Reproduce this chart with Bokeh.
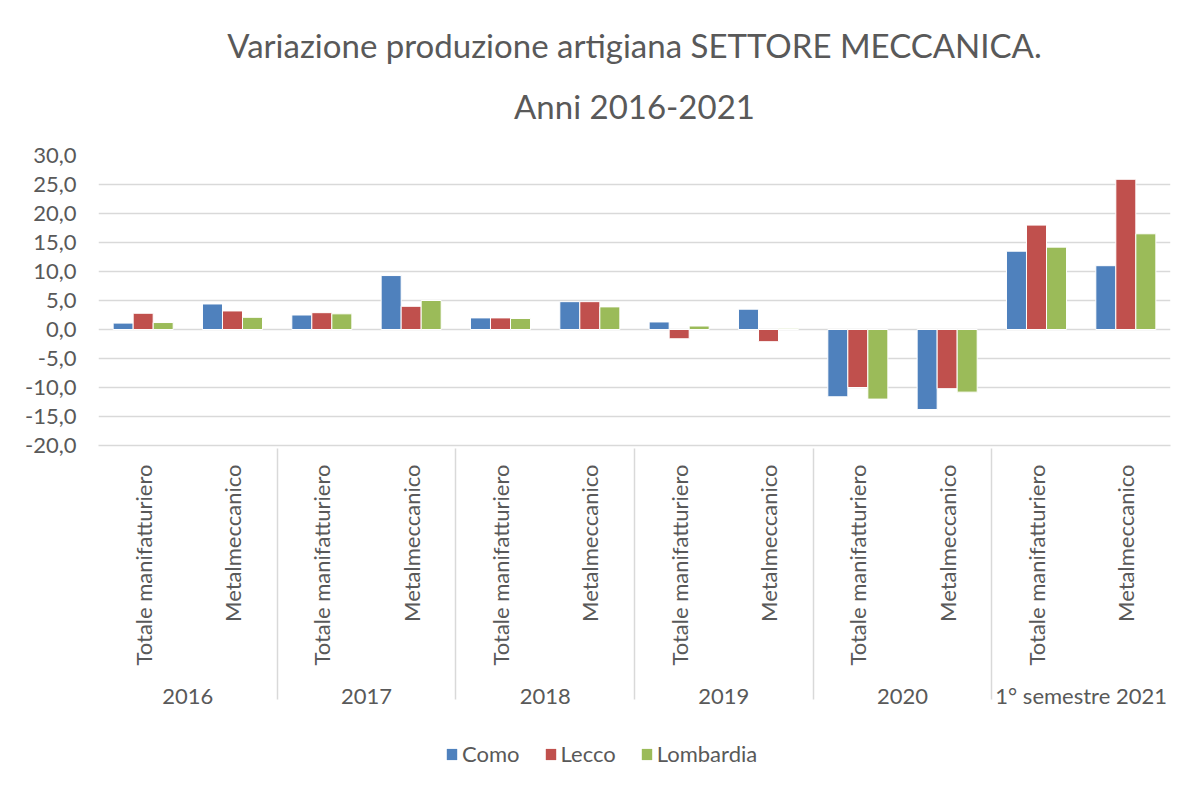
import math
from bokeh.plotting import figure
from bokeh.layouts import column
from bokeh.models import FactorRange, ColumnDataSource, Title, Legend, LegendItem, FixedTicker
from bokeh.transform import dodge
from bokeh.embed import file_html
from bokeh.resources import INLINE

years = ["2016", "2017", "2018", "2019", "2020", "1° semestre 2021"]
subs = ["Totale manifatturiero", "Metalmeccanico"]
como = [1.1, 4.4, 2.5, 9.3, 2.0, 4.8, 1.3, 3.5, -11.6, -13.8, 13.5, 11.0]
lecco = [2.8, 3.2, 2.9, 4.0, 2.0, 4.8, -1.6, -2.1, -10.0, -10.2, 18.0, 25.9]
lombardia = [1.2, 2.1, 2.7, 5.0, 1.9, 3.9, 0.6, 0.2, -12.0, -10.8, 14.2, 16.5]
series = ["Como", "Lecco", "Lombardia"]
colors = ["#4F81BD", "#C0504D", "#9BBB59"]
y_ticks = [-20, -15, -10, -5, 0, 5, 10, 15, 20, 25, 30]

factors = [(y, s) for y in years for s in subs]
src = ColumnDataSource(dict(x=factors, Como=como, Lecco=lecco, Lombardia=lombardia))

FONT = "Lato"
GREY = "#595959"
LINE = "#d9d9d9"
FS = "22px"

x_range = FactorRange(*factors, factor_padding=0, group_padding=0, range_padding=0)
p = figure(x_range=x_range, y_range=(-20, 30), width=1171, height=733,
           output_backend="svg", toolbar_location=None, title=None,
           min_border_left=98, min_border_right=1, min_border_top=155, min_border_bottom=288)

p.add_layout(Title(text="Anni 2016-2021", align="center", text_font=FONT, text_font_size="33px",
                   text_font_style="normal", text_color=GREY, standoff=59), "above")
p.add_layout(Title(text="Variazione produzione artigiana SETTORE MECCANICA.", align="center",
                   text_font=FONT, text_font_size="33px", text_font_style="normal",
                   text_color=GREY, standoff=-20), "above")

w = 0.224
for i, (s, c) in enumerate(zip(series, colors)):
    p.vbar(x=dodge("x", (i - 1) * w, range=p.x_range), top=s, bottom=0, width=w,
           source=src, fill_color=c, line_color="white", line_width=1)

p.yaxis.ticker = FixedTicker(ticks=y_ticks)
p.yaxis.major_label_overrides = {t: f"{t:.1f}".replace(".", ",") for t in y_ticks}
p.yaxis.axis_line_color = None
p.yaxis.major_tick_line_color = None
p.yaxis.minor_tick_line_color = None
p.yaxis.major_label_text_font = FONT
p.yaxis.major_label_text_font_size = FS
p.yaxis.major_label_text_color = GREY
p.yaxis.major_label_standoff = 16

p.ygrid.grid_line_color = LINE
p.ygrid.grid_line_width = 1.5
p.xgrid.grid_line_color = None

xa = p.xaxis[0]
xa.axis_line_color = LINE
xa.axis_line_width = 1.5
xa.major_tick_line_color = None
xa.minor_tick_line_color = None
xa.major_label_orientation = math.pi / 2
xa.major_label_standoff = 13
xa.major_label_text_font = FONT
xa.major_label_text_font_size = FS
xa.major_label_text_color = GREY
xa.group_text_font = FONT
xa.group_text_font_size = FS
xa.group_text_font_style = "normal"
xa.group_text_color = GREY
xa.separator_line_color = LINE
xa.separator_line_width = 1.5

p.outline_line_color = None
p.border_fill_color = "white"

# legend strip below the chart (hidden copies of the bar renderers provide the swatches)
pl = figure(width=1171, height=36, x_range=x_range, y_range=(-20, 30), output_backend="svg",
            toolbar_location=None, min_border=0)
pl.axis.visible = False
pl.grid.grid_line_color = None
pl.outline_line_color = None
items = []
for i, (s, c) in enumerate(zip(series, colors)):
    r = pl.vbar(x=dodge("x", (i - 1) * w, range=x_range), top=s, bottom=0, width=w,
                source=src, fill_color=c, line_color=None, visible=False)
    items.append(LegendItem(label=s, renderers=[r]))
legend = Legend(items=items, orientation="horizontal", location=(347, 2), label_text_font=FONT,
                label_text_font_size=FS, label_text_color=GREY, glyph_width=13, glyph_height=14,
                border_line_color=None, background_fill_alpha=0, spacing=24, label_standoff=4,
                margin=0, padding=2, inactive_fill_alpha=0)
pl.add_layout(legend, "center")

layout = column(p, pl, spacing=0)
open("out.html", "w").write(file_html(layout, INLINE))
